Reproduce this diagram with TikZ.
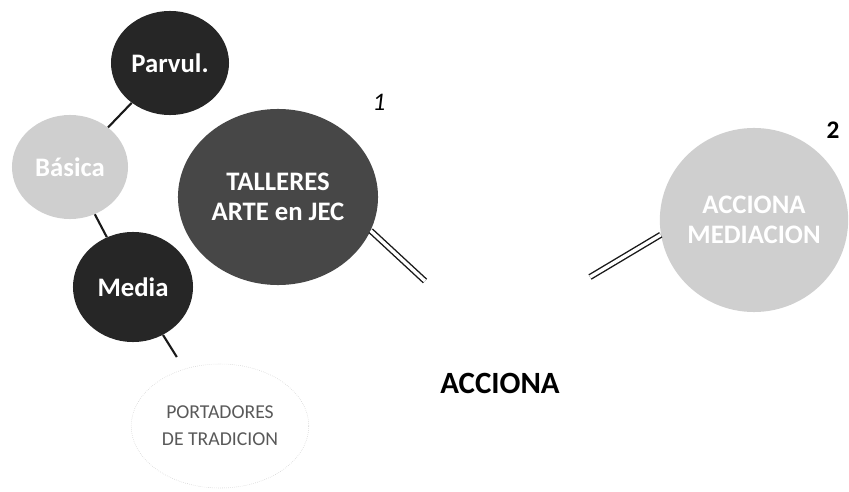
\documentclass[tikz,border=0pt]{standalone}
\usepackage{fontspec}
\setmainfont{Carlito}
\usetikzlibrary{shapes.geometric, positioning}

\begin{document}
\begin{tikzpicture}[
    x=0.025cm, y=-0.025cm,
    blob/.style={ellipse, fill=black!85, text=white, font=\fontsize{19}{21}\selectfont\bfseries, align=center, inner sep=0pt},
    paleblob/.style={blob, fill=black!19},
    link/.style={draw=black!90, line width=1.5pt},
    dbl/.style={draw=black!90, line width=1pt, double=white, double distance=2.4pt},
    tag/.style={font=\fontsize{18}{20}\selectfont\bfseries}
]
    \useasboundingbox (0,0) rectangle (849,492);

    % Define nodes for the school levels
    \node[blob, minimum width=2.95cm, minimum height=2.6cm] (parvul) at (170, 63) {Parvul.};
    \node[paleblob, minimum width=2.9cm, minimum height=2.6cm] (basica) at (70, 167) {Básica};
    \node[blob, minimum width=3.0cm, minimum height=2.75cm] (media) at (133, 287) {Media};
    \node[ellipse, draw=black!20, densely dotted, text=black!65, minimum width=3.85cm, minimum height=3.1cm,
          font=\fontsize{14}{19}\selectfont, align=center] (portadores) at (220, 426) {PORTADORES\\DE TRADICION};

    % Define nodes for the two actions
    \node[blob, fill=black!72, minimum width=5.0cm, minimum height=4.4cm] (talleres) at (278, 197) {TALLERES\\ARTE en JEC};
    \node[paleblob, minimum width=4.7cm, minimum height=4.6cm] (mediacion) at (754, 220) {ACCIONA\\MEDIACION};
    \node[tag, font=\fontsize{18}{20}\selectfont\itshape] (n1) at (379, 102) {1};
    \node[tag] (n2) at (833, 130) {2};
    \node[font=\fontsize{22}{24}\selectfont\bfseries] (acciona) at (500, 383) {ACCIONA};

    % Free ends of the double lines
    \coordinate (tEnd) at (425, 281);
    \coordinate (mEnd) at (590, 277);

    % Draw the connectors
    \draw[link] (parvul) -- (basica);
    \draw[link] (basica) -- (media);
    \draw[link, shorten >=10pt] (media) -- (portadores);
    \draw[dbl] (talleres.-20) -- (tEnd);
    \draw[dbl] (mediacion.189) -- (mEnd);

\end{tikzpicture}
\end{document}
